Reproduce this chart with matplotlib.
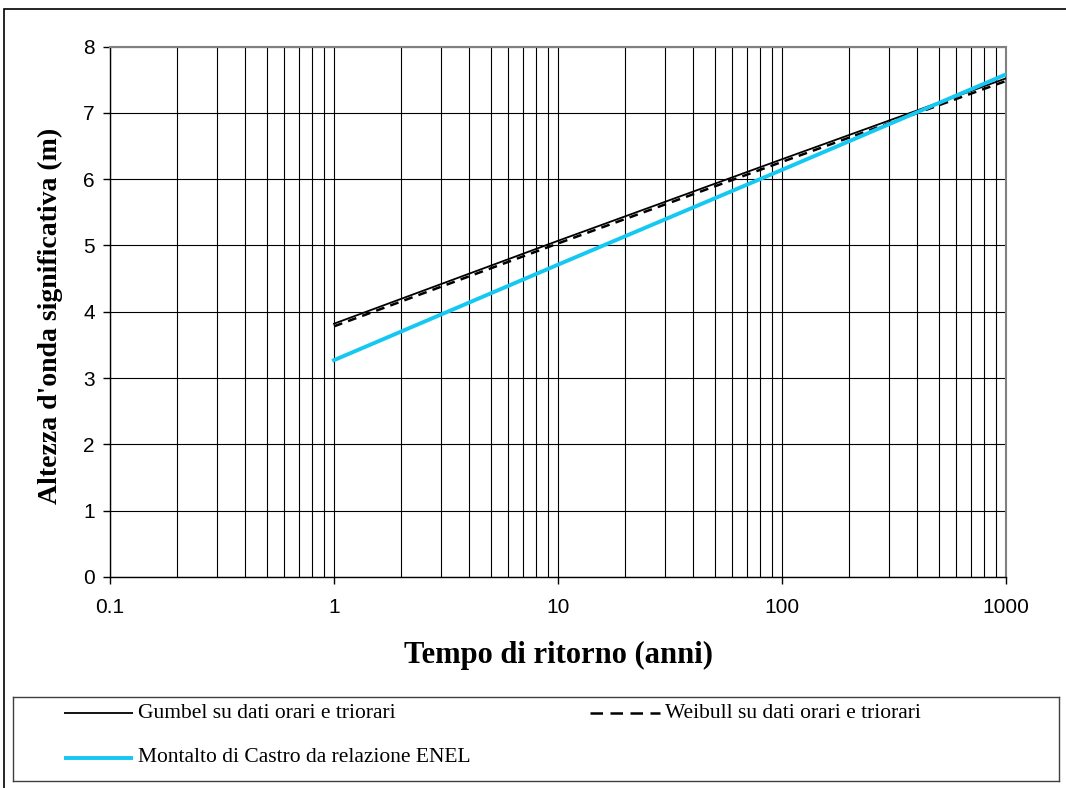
import matplotlib
matplotlib.use("Agg")
import matplotlib.pyplot as plt
from matplotlib.patches import Rectangle
from matplotlib.ticker import LogLocator, FixedLocator, NullFormatter

# return period (years) and significant wave height (m)
tempo = [1, 10, 100, 1000]
gumbel = [3.82, 5.07, 6.30, 7.52]
weibull = [3.78, 5.03, 6.26, 7.48]
montalto = [3.27, 4.71, 6.14, 7.58]

labels = ["Gumbel su dati orari e triorari",
          "Weibull su dati orari e triorari",
          "Montalto di Castro da relazione ENEL"]
x_ticks = [0.1, 1, 10, 100, 1000]
x_ticklabels = ["0.1", "1", "10", "100", "1000"]
y_ticks = [0, 1, 2, 3, 4, 5, 6, 7, 8]

cyan = "#14c8f2"
W, H = 1066, 788

fig = plt.figure(figsize=(W / 100, H / 100), dpi=100)

# outer chart border (only top/left visible in the crop)
fig.patches.append(Rectangle((4 / W, -0.1), 2, 1 - 9 / H + 0.1, transform=fig.transFigure,
                             fill=False, edgecolor="black", linewidth=1.2, zorder=0))

ax = fig.add_axes([110 / W, 1 - 577 / H, (1006 - 110) / W, (577 - 46.5) / H])
ax.set_xscale("log")
ax.set_xlim(0.1, 1000)
ax.set_ylim(0, 8)

ax.plot(tempo, gumbel, color="black", lw=1.3, zorder=3)
ax.plot(tempo, weibull, color="black", lw=1.8, linestyle=(0, (3.5, 2.5)), zorder=3)
ax.plot(tempo, montalto, color=cyan, lw=2.8, zorder=4)

ax.xaxis.set_major_locator(FixedLocator(x_ticks))
ax.set_xticklabels(x_ticklabels)
ax.xaxis.set_minor_locator(LogLocator(base=10, subs=range(2, 10)))
ax.xaxis.set_minor_formatter(NullFormatter())
ax.set_yticks(y_ticks)

ax.grid(True, which="both", axis="x", color="black", lw=0.8)
ax.grid(True, which="major", axis="y", color="black", lw=0.8)
ax.set_axisbelow(True)

for lab in ax.get_xticklabels() + ax.get_yticklabels():
    lab.set_fontfamily("Liberation Sans")
    lab.set_fontsize(15)
ax.tick_params(axis="x", which="major", direction="out", length=5, pad=10, width=1)
ax.tick_params(axis="x", which="minor", length=0)
ax.tick_params(axis="y", direction="out", length=5, pad=6, width=1)

for side in ["left", "bottom"]:
    ax.spines[side].set_color("black")
    ax.spines[side].set_linewidth(1)
for side in ["top", "right"]:
    ax.spines[side].set_color("#808080")
    ax.spines[side].set_linewidth(1.5)

fig.text((110 + 1006) / 2 / W, 1 - 655 / H, "Tempo di ritorno (anni)", ha="center", va="center",
         family="Liberation Serif", weight="bold", size=22)
fig.text(50 / W, 1 - 316 / H, "Altezza d'onda significativa (m)", ha="center", va="center",
         rotation=90, family="Liberation Serif", weight="bold", size=20)

# legend box
lx0, lx1, ly0, ly1 = 13, 1059, 697, 781
lg = fig.add_axes([lx0 / W, 1 - ly1 / H, (lx1 - lx0) / W, (ly1 - ly0) / H])
lg.set_xlim(lx0, lx1)
lg.set_ylim(ly1, ly0)
lg.set_xticks([])
lg.set_yticks([])
for s in lg.spines.values():
    s.set_color("#404040")
    s.set_linewidth(1)

entries = [
    (64, 133, 713, dict(color="black", lw=1.3), labels[0]),
    (590, 660, 713, dict(color="black", lw=1.8, linestyle=(0, (5, 3))), labels[1]),
    (64, 133, 758, dict(color=cyan, lw=2.8), labels[2]),
]
for x0, x1, yy, style, text in entries:
    lg.plot([x0, x1], [yy, yy], solid_capstyle="butt", dash_capstyle="butt", **style)
    lg.text(x1 + 5, yy, text, va="center", ha="left", family="Liberation Serif", size=15.5)

fig.savefig("out.png", dpi=100)
